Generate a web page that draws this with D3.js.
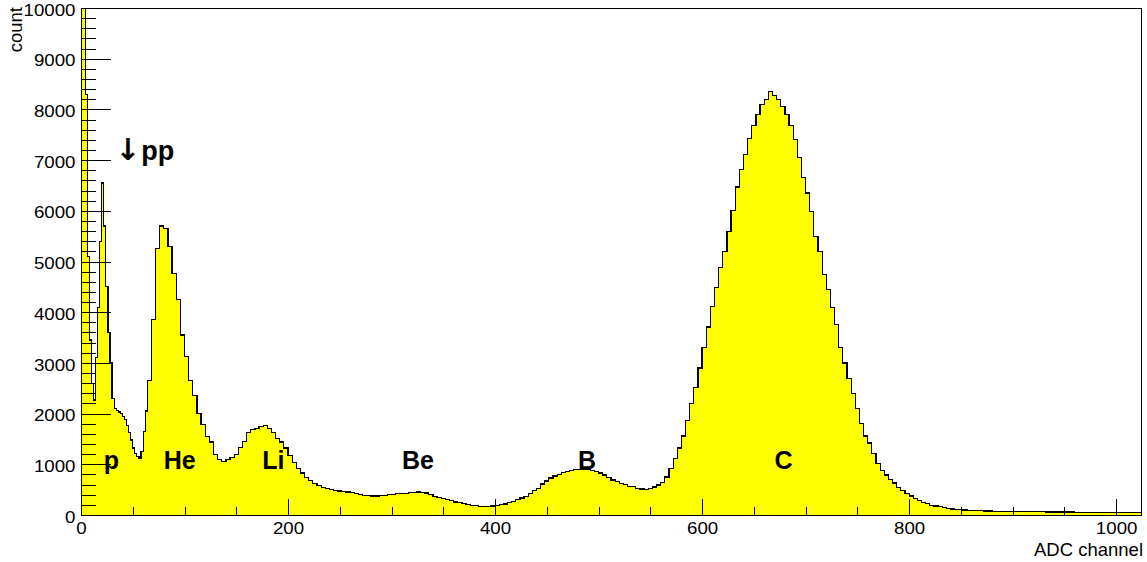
<!DOCTYPE html>
<html>
<head>
<meta charset="utf-8">
<script src="https://cdn.jsdelivr.net/npm/d3@7"></script>
<style>
  html, body { margin: 0; padding: 0; background: #fff; }
  svg { display: block; font-family: "Liberation Sans", Arial, Helvetica, sans-serif; }
</style>
</head>
<body>
<div id="container"></div>
<script>
"use strict";

// 2-channel bins for channels 0..64 (the narrow pp peak lives here)
const fineWidth = 2;
const fineCounts = [
  13000, 11500, 8300, 5100, 3450, 2600, 2270, 3100, 4100, 5400,
  6550, 5700, 4500, 3600, 3000, 2300, 2100, 2060, 2030, 2000,
  1950, 1880, 1760, 1620, 1480, 1320, 1220, 1150, 1120, 1250,
  1650, 2050
];

// 4-channel bins for channels 64..1024
const coarseStart = 64;
const coarseWidth = 4;
const coarseCounts = [
  2650, 3850, 5250, 5700, 5650, 5300, 4770, 4250, 3550, 3120,
  2660, 2360, 2000, 1780, 1550, 1440, 1200, 1100, 1050, 1100,
  1130, 1190, 1330, 1450, 1620, 1680, 1710, 1750, 1760, 1710,
  1630, 1510, 1440, 1320, 1180, 1040, 920, 830, 745, 680,
  620, 575, 545, 520, 505, 490, 475, 462, 452, 437,
  420, 408, 390, 378, 375, 375, 380, 392, 402, 410,
  420, 430, 430, 438, 445, 455, 448, 432, 400, 372,
  345, 318, 300, 280, 258, 240, 222, 208, 192, 182,
  175, 165, 168, 176, 188, 200, 218, 245, 270, 300,
  335, 370, 420, 480, 530, 610, 670, 730, 770, 805,
  840, 860, 878, 890, 900, 905, 900, 882, 858, 830,
  790, 740, 690, 655, 625, 595, 570, 555, 530, 512,
  505, 522, 552, 590, 640, 750, 920, 1120, 1320, 1560,
  1870, 2200, 2520, 2900, 3310, 3710, 4120, 4480, 4880, 5200,
  5590, 6010, 6470, 6810, 7110, 7420, 7690, 7900, 8100, 8200,
  8350, 8280, 8200, 8050, 7900, 7680, 7400, 7050, 6650, 6350,
  5980, 5500, 5200, 4750, 4450, 4100, 3750, 3300, 3000, 2700,
  2400, 2100, 1800, 1560, 1420, 1220, 1020, 880, 790, 700,
  630, 550, 480, 430, 375, 320, 280, 245, 220, 195,
  178, 162, 148, 133, 120, 110, 103, 98, 94, 90,
  86, 83, 80, 78, 75, 72, 71, 70, 68, 67,
  66, 66, 65, 64, 63, 63, 62, 61, 61, 60,
  60, 59, 58, 58, 57, 56, 56, 55, 54, 54,
  53, 52, 52, 51, 51, 50, 50, 49, 48, 48
];

const xDomain = [0, 1024];
const yDomain = [0, 10000];
const xMajorTicks = [0, 200, 400, 600, 800, 1000];
const xMinorStep = 50;
const yMajorTicks = [0, 1000, 2000, 3000, 4000, 5000, 6000, 7000, 8000, 9000, 10000];
const yMinorStep = 200;

const peakNames = ["p", "He", "Li", "Be", "B", "C"];
const peakChannels = [22, 80, 175, 310, 480, 670];
const peakCounts = [900, 900, 900, 900, 900, 900];

const ppArrow = "\u2193";
const ppText = "pp";
const ppChannel = 33;
const ppCount = 7000;

const xTitle = "ADC channel";
const yTitle = "count";

const renderChart = () => {
  const width = 1147;
  const height = 562;
  const frame = { left: 81, right: 1141, top: 8, bottom: 515 };

  const svg = d3.select("#container")
    .append("svg")
    .attr("width", width)
    .attr("height", height);

  const x = d3.scaleLinear().domain(xDomain).range([frame.left, frame.right]);
  const y = d3.scaleLinear().domain(yDomain).range([frame.bottom, frame.top]);

  // histogram bins -> step points
  const bins = [];
  fineCounts.forEach((n, i) => bins.push({ ch: i * fineWidth, n: n }));
  coarseCounts.forEach((n, i) => bins.push({ ch: coarseStart + i * coarseWidth, n: n }));
  const last = bins[bins.length - 1];
  const points = bins.concat([{ ch: last.ch + coarseWidth, n: last.n }]);

  svg.append("clipPath")
    .attr("id", "plotClip")
    .append("rect")
    .attr("x", frame.left)
    .attr("y", frame.top)
    .attr("width", frame.right - frame.left)
    .attr("height", frame.bottom - frame.top);

  const plot = svg.append("g").attr("clip-path", "url(#plotClip)");

  const area = d3.area()
    .x((d) => x(d.ch))
    .y0(y(0))
    .y1((d) => y(d.n))
    .curve(d3.curveStepAfter);

  const line = d3.line()
    .x((d) => x(d.ch))
    .y((d) => y(d.n))
    .curve(d3.curveStepAfter);

  plot.append("path")
    .datum(points)
    .attr("d", area)
    .attr("fill", "#ffff00")
    .attr("stroke", "none");

  plot.append("path")
    .datum(points)
    .attr("d", line)
    .attr("fill", "none")
    .attr("stroke", "#000")
    .attr("stroke-width", 1.2)
    .attr("shape-rendering", "crispEdges");

  // axes, ROOT style: ticks pointing into the frame
  const xMinor = d3.range(xDomain[0], xDomain[1] + 1, xMinorStep).filter((v) => v % 200 !== 0);
  const yMinor = d3.range(yDomain[0], yDomain[1] + 1, yMinorStep).filter((v) => v % 1000 !== 0);

  svg.append("g")
    .attr("transform", `translate(0,${frame.bottom})`)
    .call(d3.axisBottom(x).tickValues(xMinor).tickSize(-8).tickFormat(""))
    .call((g) => g.select(".domain").remove());

  svg.append("g")
    .attr("class", "xaxis")
    .attr("transform", `translate(0,${frame.bottom})`)
    .call(d3.axisBottom(x).tickValues(xMajorTicks).tickSize(-16).tickPadding(7).tickFormat(d3.format("d")))
    .call((g) => g.select(".domain").remove());

  svg.append("g")
    .attr("transform", `translate(${frame.left},0)`)
    .call(d3.axisLeft(y).tickValues(yMinor).tickSize(-15).tickFormat(""))
    .call((g) => g.select(".domain").remove());

  svg.append("g")
    .attr("class", "yaxis")
    .attr("transform", `translate(${frame.left},0)`)
    .call(d3.axisLeft(y).tickValues(yMajorTicks).tickSize(-30).tickPadding(5).tickFormat(d3.format("d")))
    .call((g) => g.select(".domain").remove());

  svg.selectAll(".tick line")
    .attr("stroke", "#000")
    .attr("shape-rendering", "crispEdges");

  // ROOT labels come out a little wide: stretch them horizontally
  svg.selectAll(".tick text")
    .attr("fill", "#000")
    .style("font-size", "17px")
    .style("font-family", "'Liberation Sans', Arial, sans-serif");

  svg.selectAll(".xaxis .tick text")
    .attr("transform", "scale(1.1,1)");

  svg.selectAll(".yaxis .tick text")
    .attr("dy", "0.42em")
    .attr("transform", "scale(1.1,1)");

  // frame
  svg.append("rect")
    .attr("x", frame.left)
    .attr("y", frame.top)
    .attr("width", frame.right - frame.left)
    .attr("height", frame.bottom - frame.top)
    .attr("fill", "none")
    .attr("stroke", "#000")
    .attr("shape-rendering", "crispEdges");

  // axis titles
  svg.append("text")
    .attr("x", frame.right + 2)
    .attr("y", 556)
    .attr("text-anchor", "end")
    .style("font-size", "18.5px")
    .text(xTitle);

  svg.append("text")
    .attr("transform", `translate(22,${frame.top - 1}) rotate(-90)`)
    .attr("text-anchor", "end")
    .style("font-size", "18.5px")
    .text(yTitle);

  // peak labels
  svg.selectAll("peaklabels")
    .data(peakNames)
    .enter()
    .append("text")
    .attr("x", (d, i) => x(peakChannels[i]))
    .attr("y", (d, i) => y(peakCounts[i]))
    .style("font-size", "25px")
    .style("font-weight", "bold")
    .text((d) => d);

  const pp = svg.append("text")
    .attr("x", x(ppChannel))
    .attr("y", y(ppCount));

  pp.append("tspan")
    .style("font-family", "'DejaVu Sans', sans-serif")
    .style("font-size", "30px")
    .style("font-weight", "bold")
    .text(ppArrow);

  pp.append("tspan")
    .attr("dx", 1)
    .style("font-size", "27px")
    .style("font-weight", "bold")
    .text(ppText);
};

window.onload = renderChart;
</script>
</body>
</html>
